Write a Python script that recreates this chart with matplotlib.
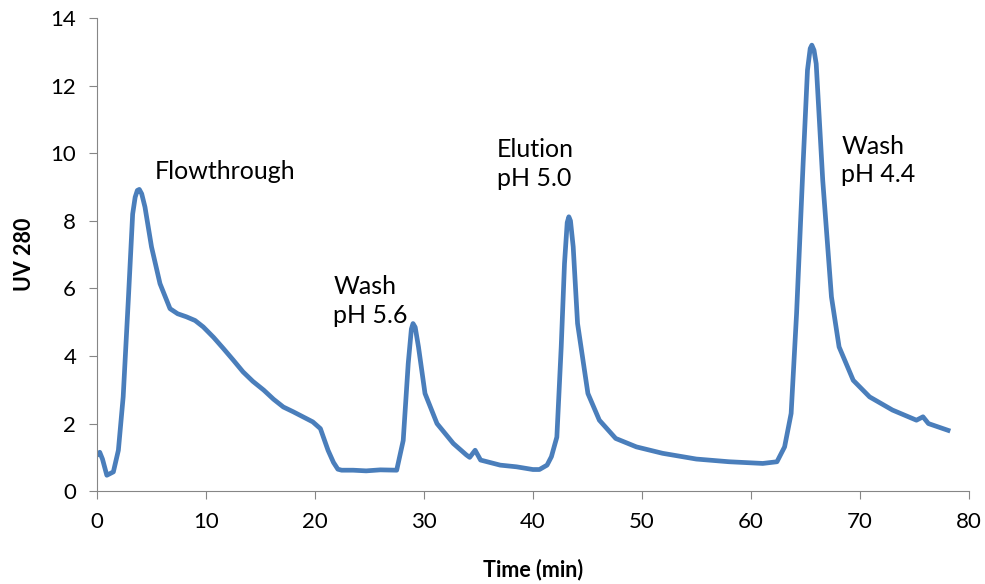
import matplotlib.pyplot as plt

plt.rcParams['font.family'] = ['Lato', 'DejaVu Sans']

# chromatogram trace
time_min = [0.1, 0.25, 0.5, 0.9, 1.5, 1.96, 2.4, 2.87, 3.27, 3.5, 3.7, 3.88, 4.1, 4.4,
            5.0, 5.78, 6.7, 7.4, 8.2, 9.0, 9.75, 10.7, 11.6, 12.5, 13.4, 14.3,
            15.3, 16.2, 17.1, 18.0, 18.9, 19.8, 20.5, 21.2, 21.7, 22.1, 22.45,
            23.5, 24.7, 26.0, 27.5, 28.1, 28.56, 28.85, 29.0, 29.2, 29.5, 30.1, 31.2, 32.7,
            33.9, 34.2, 34.7, 35.2, 37.0, 38.5, 40.0, 40.6, 41.3, 41.7, 42.2,
            42.6, 42.9, 43.15, 43.3, 43.45, 43.7, 44.1, 45.05, 46.1, 47.6, 49.5, 51.9, 55.0,
            58.0, 61.1, 62.4, 63.1, 63.7, 64.2, 64.8, 65.2, 65.45, 65.6, 65.8, 66.0, 66.6,
            67.4, 68.1, 69.4, 70.9, 73.0, 75.2, 75.8, 76.3, 77.2, 78.1]
uv_280 = [1.1, 1.15, 0.95, 0.47, 0.57, 1.21, 2.79, 5.65, 8.2, 8.7, 8.9, 8.93, 8.8, 8.41,
          7.23, 6.14, 5.4, 5.25, 5.16, 5.05, 4.86, 4.55, 4.22, 3.88, 3.53, 3.25,
          2.99, 2.72, 2.49, 2.35, 2.2, 2.05, 1.85, 1.21, 0.85, 0.65, 0.62,
          0.62, 0.6, 0.63, 0.62, 1.5, 3.78, 4.8, 4.96, 4.85, 4.27, 2.89, 2.0, 1.41,
          1.07, 1.0, 1.21, 0.92, 0.77, 0.72, 0.64, 0.64, 0.77, 1.02, 1.6,
          4.27, 6.73, 7.95, 8.12, 8.0, 7.23, 4.96, 2.89, 2.1, 1.56, 1.31, 1.12, 0.95,
          0.87, 0.82, 0.87, 1.31, 2.3, 5.26, 9.7, 12.46, 13.1, 13.2, 13.05, 12.65, 9.2,
          5.75, 4.27, 3.28, 2.79, 2.4, 2.1, 2.2, 2.0, 1.9, 1.8]

labels = ["Flowthrough", "Wash\npH 5.6", "Elution\npH 5.0", "Wash\npH 4.4"]
label_x = [5.3, 21.7, 36.7, 68.3]
label_y = [9.8, 6.4, 10.45, 10.55]

fig = plt.figure(figsize=(9.85, 5.84), dpi=100)
ax = fig.add_axes([0.0985, 0.159, 0.885, 0.81])
ax.plot(time_min, uv_280, color='#4a7ebb', lw=3.4, solid_joinstyle='round')

for txt, x, y in zip(labels, label_x, label_y):
    ax.text(x, y, txt, fontsize=18, va='top', ha='left', color='black', linespacing=1.3)

ax.set_xlim(0, 80)
ax.set_ylim(0, 14)
ax.set_xticks(range(0, 81, 10))
ax.set_yticks(range(0, 15, 2))
ax.set_xlabel("Time (min)", fontsize=15.5, fontweight='bold', labelpad=19)
ax.set_ylabel("UV 280", fontsize=15.5, fontweight='bold', labelpad=11)
ax.tick_params(axis='both', direction='out', length=6, color='#868686', labelsize=16, pad=9)
for s in ['top', 'right']:
    ax.spines[s].set_visible(False)
for s in ['left', 'bottom']:
    ax.spines[s].set_color('#868686')
ax.margins(0)

plt.savefig("out.png", dpi=100)
